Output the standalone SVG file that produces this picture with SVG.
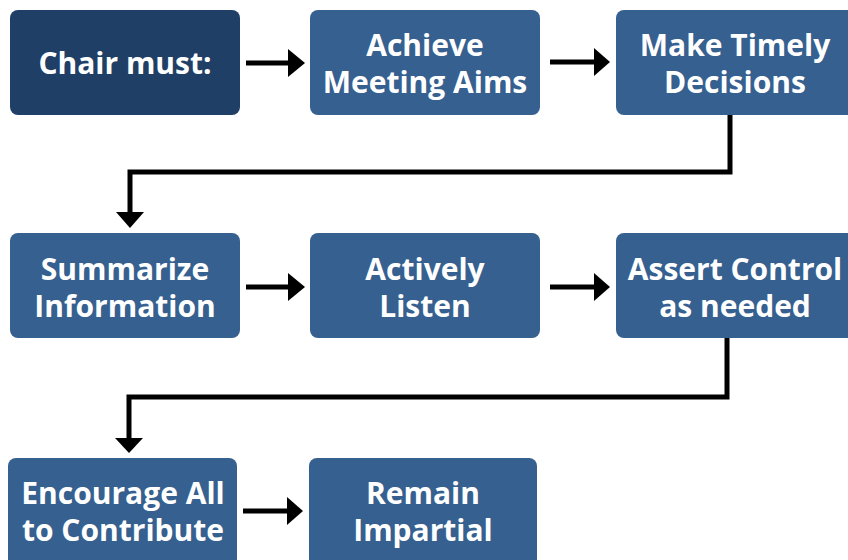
<svg xmlns="http://www.w3.org/2000/svg" width="848" height="560" viewBox="0 0 848 560">
<defs>
<style>
.box{fill:#36608f;}
.dark{fill:#1f3f67;}
.t{font-family:"Open Sans","Noto Sans",sans-serif;font-weight:bold;font-size:30px;fill:#ffffff;text-anchor:middle;}
.c{stroke:#000;stroke-width:5;fill:none;}
.h{fill:#000;}
</style>
</defs>
<rect width="848" height="560" fill="#ffffff"/>
<g id="n1"><rect class="dark" x="10" y="10" width="230" height="105" rx="8"/><text class="t" x="125" y="74">Chair must:</text></g>
<g id="n2"><rect class="box" x="310" y="10" width="230" height="105" rx="8"/><text class="t" x="425" y="56">Achieve</text><text class="t" x="425" y="93">Meeting Aims</text></g>
<g id="n3"><rect class="box" x="616" y="10" width="240" height="105" rx="8"/><text class="t" x="735" y="56">Make Timely</text><text class="t" x="735" y="93">Decisions</text></g>
<g id="n4"><rect class="box" x="10" y="233" width="230" height="105" rx="8"/><text class="t" x="125" y="280">Summarize</text><text class="t" x="125" y="317">Information</text></g>
<g id="n5"><rect class="box" x="310" y="233" width="230" height="105" rx="8"/><text class="t" x="425" y="280">Actively</text><text class="t" x="425" y="317">Listen</text></g>
<g id="n6"><rect class="box" x="616" y="233" width="240" height="105" rx="8"/><text class="t" x="735" y="280">Assert Control</text><text class="t" x="735" y="317">as needed</text></g>
<g id="n7"><rect class="box" x="8" y="458" width="229" height="110" rx="8"/><text class="t" x="123" y="504">Encourage All</text><text class="t" x="123" y="541">to Contribute</text></g>
<g id="n8"><rect class="box" x="309" y="458" width="228" height="110" rx="8"/><text class="t" x="423" y="504">Remain</text><text class="t" x="423" y="541">Impartial</text></g>
<g id="connectors">
<line class="c" x1="246" y1="63" x2="290" y2="63"/><polygon class="h" points="288,49 305,63 288,77"/>
<line class="c" x1="550" y1="62" x2="596" y2="62"/><polygon class="h" points="594,48 610,62 594,76"/>
<line class="c" x1="246" y1="287" x2="290" y2="287"/><polygon class="h" points="288,273 305,287 288,301"/>
<line class="c" x1="550" y1="287" x2="596" y2="287"/><polygon class="h" points="594,273 610,287 594,301"/>
<line class="c" x1="243" y1="511" x2="289" y2="511"/><polygon class="h" points="287,497 303,511 287,525"/>
<polyline class="c" points="730,115 730,172 130,172 130,214"/><polygon class="h" points="116,212 130,228 144,212"/>
<polyline class="c" points="727,338 727,397 129,397 129,440"/><polygon class="h" points="115,438 129,453 143,438"/>
</g>
</svg>
